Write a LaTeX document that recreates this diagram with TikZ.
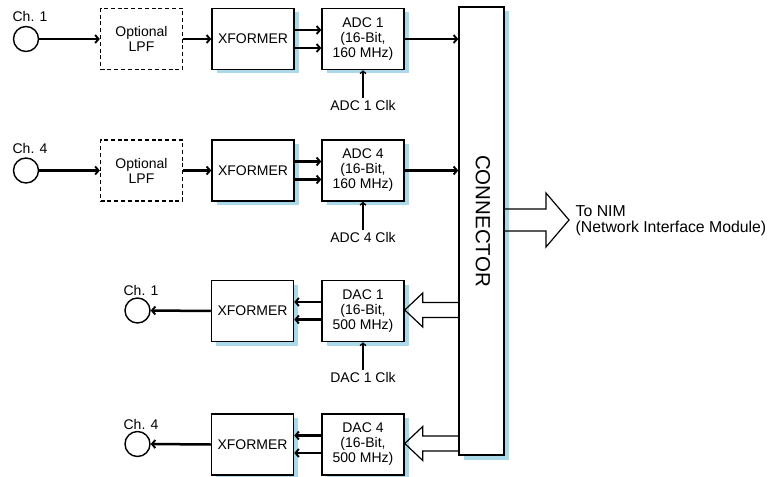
\documentclass[tikz,border=0pt]{standalone}
\usepackage{fontspec}
\setmainfont{Liberation Sans}
\usetikzlibrary{arrows.meta,shadows,calc}
\definecolor{shadowblue}{RGB}{170,218,233}
\tikzset{
  txt/.style={font=\fontsize{14}{15}\selectfont, inner sep=1.5pt, align=center},
  blk/.style={draw, line width=1.5pt, fill=white, minimum width=82pt, minimum height=61pt, txt,
    general shadow={shadow xshift=4.5pt, shadow yshift=-4pt, fill=shadowblue, opacity=1}},
  lpfbox/.style={draw, line width=1.4pt, dash pattern=on 4pt off 2.8pt, minimum width=82pt, minimum height=61pt, txt},
  jack/.style={draw, circle, line width=1.4pt, minimum size=25pt, inner sep=0pt},
  sig/.style={line width=2.5pt, -{Straight Barb[length=3.4pt,width=8pt,line width=1.9pt]}},
  clk/.style={line width=1.5pt, -{Straight Barb[length=2.6pt,width=6pt,line width=1.3pt]}},
  hollow/.style={line width=1.2pt, line join=miter},
}
\begin{document}
\begin{tikzpicture}[x=1pt,y=-1pt]
\useasboundingbox (0,0) rectangle (775,476);

% connector
\node[draw, line width=1.5pt, fill=white, minimum width=45pt, minimum height=448pt,
  general shadow={shadow xshift=5pt, shadow yshift=-4.5pt, fill=shadowblue, opacity=1}] (conn) at (481.5,231) {};
\node[rotate=-90, font=\fontsize{20.5}{22}\selectfont] (conntxt) at (483,221) {CONNECTOR};

% ---- ADC row 1
\node[jack] (c1) at (26,39) {};
\node[txt] (l1) at (30,16.5) {Ch. 1};
\node[lpfbox] (lpf1) at (141.5,39) {Optional\\LPF};
\node[blk] (xf1) at (253,39) {XFORMER};
\node[blk] (adc1) at (363,39) {ADC 1\\(16-Bit,\\160 MHz)};
\node[txt] (k1) at (363,105) {ADC 1 Clk};
\draw[sig] (c1) -- (lpf1);
\draw[sig] (lpf1) -- (xf1);
\draw[sig] ([yshift=9pt]xf1.east) -- ([yshift=9pt]adc1.west);
\draw[sig] ([yshift=-9pt]xf1.east) -- ([yshift=-9pt]adc1.west);
\draw[sig] (adc1.east) -- (adc1.east -| conn.west);
\draw[clk] (k1.north) -- (adc1.south);

% ---- ADC row 4
\node[jack] (c2) at (26,170.5) {};
\node[txt] (l2) at (30,148) {Ch. 4};
\node[lpfbox] (lpf2) at (141.5,170.5) {Optional\\LPF};
\node[blk] (xf2) at (253,170.5) {XFORMER};
\node[blk] (adc2) at (363,170.5) {ADC 4\\(16-Bit,\\160 MHz)};
\node[txt] (k2) at (363,237) {ADC 4 Clk};
\draw[sig] (c2) -- (lpf2);
\draw[sig] (lpf2) -- (xf2);
\draw[sig] ([yshift=9pt]xf2.east) -- ([yshift=9pt]adc2.west);
\draw[sig] ([yshift=-9pt]xf2.east) -- ([yshift=-9pt]adc2.west);
\draw[sig] (adc2.east) -- (adc2.east -| conn.west);
\draw[clk] (k2.north) -- (adc2.south);

% ---- DAC row 1
\node[jack] (c3) at (137.5,310.5) {};
\node[txt] (l3) at (141,290) {Ch. 1};
\node[blk] (xf3) at (252.5,311) {XFORMER};
\node[blk] (dac3) at (363,311) {DAC 1\\(16-Bit,\\500 MHz)};
\node[txt] (k3) at (363,377) {DAC 1 Clk};
\draw[sig] (xf3.west) -- (c3.east);
\draw[sig] ([yshift=9pt]dac3.west) -- ([yshift=9pt]xf3.east);
\draw[sig] ([yshift=-8.5pt]dac3.west) -- ([yshift=-8.5pt]xf3.east);
\draw[clk] (k3.north) -- (dac3.south);
\coordinate (t3) at ([yshift=1pt]dac3.east);
\draw[hollow] (t3 -| conn.west) ++(0,-7.5) -- ($(t3)+(18,-7.5)$) -- ($(t3)+(18,-17)$) -- (t3)
  -- ($(t3)+(18,17)$) -- ($(t3)+(18,7.5)$) -- ($(t3 -| conn.west)+(0,7.5)$);

% ---- DAC row 4
\node[jack] (c4) at (137.5,444) {};
\node[txt] (l4) at (141,424) {Ch. 4};
\node[blk] (xf4) at (252.5,444.5) {XFORMER};
\node[blk] (dac4) at (363,444.5) {DAC 4\\(16-Bit,\\500 MHz)};
\draw[sig] (xf4.west) -- (c4.east);
\draw[sig] ([yshift=9pt]dac4.west) -- ([yshift=9pt]xf4.east);
\draw[sig] ([yshift=-8.5pt]dac4.west) -- ([yshift=-8.5pt]xf4.east);
\coordinate (t4) at ([yshift=1pt]dac4.east);
\draw[hollow] (t4 -| conn.west) ++(0,-7.5) -- ($(t4)+(18,-7.5)$) -- ($(t4)+(18,-17)$) -- (t4)
  -- ($(t4)+(18,17)$) -- ($(t4)+(18,7.5)$) -- ($(t4 -| conn.west)+(0,7.5)$);

% ---- NIM output
\node[txt, align=left, anchor=west, font=\fontsize{15.8}{16}\selectfont] (nim) at (574,221) {To NIM\\(Network Interface Module)};
\coordinate (tn) at (569,220);
\draw[hollow] (tn -| conn.east) ++(0,-11) -- ($(tn)+(-23,-11)$) -- ($(tn)+(-23,-27)$) -- (tn)
  -- ($(tn)+(-23,27)$) -- ($(tn)+(-23,11)$) -- ($(tn -| conn.east)+(0,11)$);
\end{tikzpicture}
\end{document}
